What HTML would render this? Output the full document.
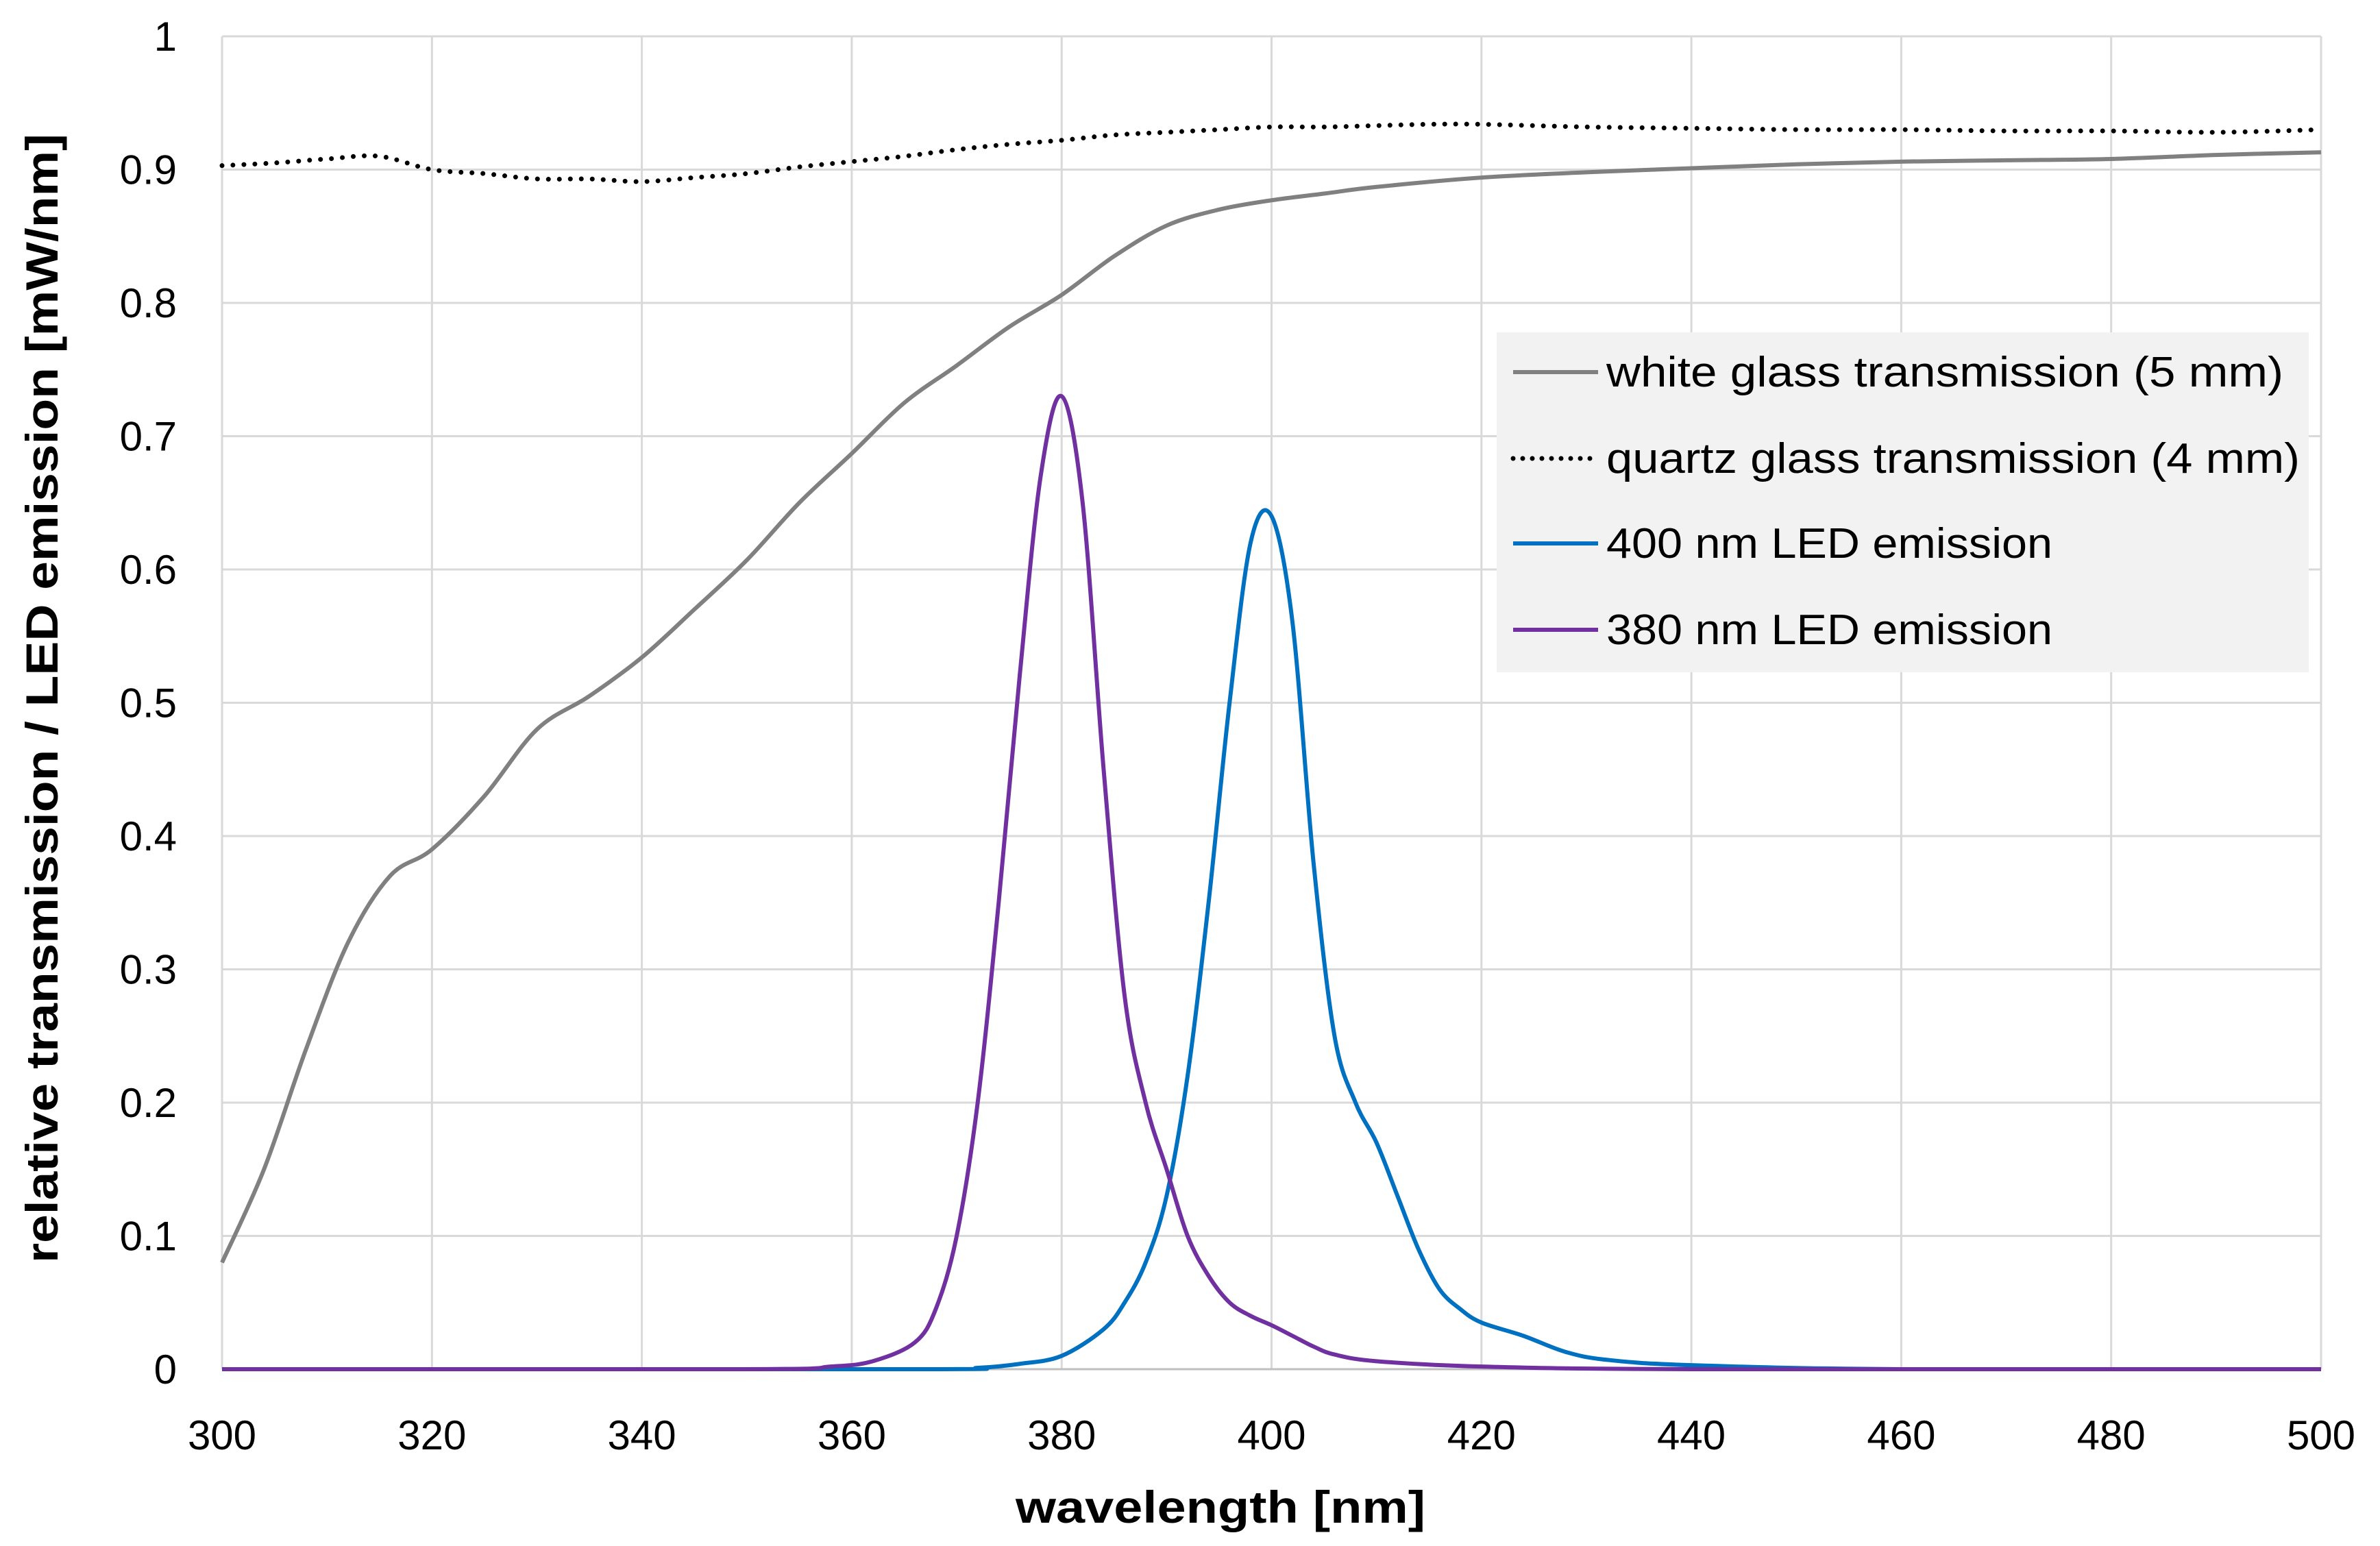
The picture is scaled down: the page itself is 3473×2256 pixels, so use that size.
<!DOCTYPE html>
<html><head><meta charset="utf-8">
<style>
html,body{margin:0;padding:0;background:#fff;}
svg{display:block;font-family:"Liberation Sans",sans-serif;}
</style></head>
<body>
<svg id="chart" width="3473" height="2256" viewBox="0 0 3473 2256" xmlns="http://www.w3.org/2000/svg">
<rect x="0" y="0" width="3473" height="2256" fill="#fff"/>
<g id="grid"></g>
<g id="series"></g>
<g id="ticks"></g>
<text x="1781" y="2222" text-anchor="middle" font-size="66" font-weight="bold" fill="#000" textLength="598" lengthAdjust="spacingAndGlyphs">wavelength [nm]</text>
<text transform="translate(84,1019) rotate(-90)" text-anchor="middle" font-size="66" font-weight="bold" fill="#000" textLength="1648" lengthAdjust="spacingAndGlyphs">relative transmission / LED emission [mW/nm]</text>
<g>
<rect x="2184" y="485" width="1185" height="496" fill="#f2f2f2"/>
<line x1="2208" y1="543" x2="2332" y2="543" stroke="#808080" stroke-width="6"/>
<text x="2344" y="564" font-size="62" fill="#000" textLength="988" lengthAdjust="spacingAndGlyphs">white glass transmission (5 mm)</text>
<line x1="2208" y1="669" x2="2332" y2="669" stroke="#000" stroke-width="7" stroke-dasharray="0 14" stroke-linecap="round"/>
<text x="2344" y="690" font-size="62" fill="#000" textLength="1012" lengthAdjust="spacingAndGlyphs">quartz glass transmission (4 mm)</text>
<line x1="2208" y1="793" x2="2332" y2="793" stroke="#0070C0" stroke-width="6"/>
<text x="2344" y="814" font-size="62" fill="#000" textLength="651" lengthAdjust="spacingAndGlyphs">400 nm LED emission</text>
<line x1="2208" y1="919" x2="2332" y2="919" stroke="#7030A0" stroke-width="6"/>
<text x="2344" y="940" font-size="62" fill="#000" textLength="651" lengthAdjust="spacingAndGlyphs">380 nm LED emission</text>
</g>
</svg>
<script>
const xTicks=[300,320,340,360,380,400,420,440,460,480,500];
const yTicks=[0,0.1,0.2,0.3,0.4,0.5,0.6,0.7,0.8,0.9,1];
const yTickLabels=["0","0.1","0.2","0.3","0.4","0.5","0.6","0.7","0.8","0.9","1"];
const whiteX=[300,304,308,312,316,320,325,330,335,340,345,350,355,360,365,370,375,380,385,390,395,400,405,410,420,430,440,450,460,470,480,490,500];
const whiteY=[0.08,0.15,0.24,0.32,0.37,0.39,0.43,0.48,0.505,0.534,0.57,0.607,0.65,0.687,0.725,0.753,0.782,0.806,0.835,0.858,0.87,0.877,0.882,0.887,0.894,0.898,0.901,0.904,0.906,0.907,0.908,0.911,0.913];
const quartzX=[300,305,310,315,320,325,330,335,340,345,350,355,360,365,370,375,380,385,390,395,400,405,410,415,420,430,440,450,460,470,480,490,500];
const quartzY=[0.903,0.905,0.908,0.91,0.9,0.897,0.893,0.893,0.891,0.894,0.897,0.902,0.906,0.91,0.915,0.919,0.922,0.926,0.928,0.93,0.932,0.932,0.933,0.934,0.934,0.932,0.931,0.93,0.93,0.929,0.929,0.928,0.93];
const led380X=[300,350,358,362,366,368,370,372,374,376,378,380,382,384,386,388,390,392,394,396,398,400,402,404,406,410,420,440,500];
const led380Y=[0,0,0.002,0.006,0.02,0.045,0.1,0.2,0.35,0.52,0.67,0.73,0.65,0.45,0.28,0.2,0.15,0.1,0.07,0.05,0.04,0.033,0.025,0.017,0.011,0.006,0.002,0,0];
const led400X=[300,366,372,376,380,384,386,388,390,392,394,396,398,400,402,404,406,408,410,412,414,416,418,420,424,428,432,440,460,500];
const led400Y=[0,0,0.001,0.004,0.01,0.03,0.05,0.08,0.13,0.22,0.35,0.5,0.62,0.64,0.56,0.38,0.25,0.2,0.17,0.13,0.09,0.06,0.045,0.035,0.025,0.013,0.007,0.003,0,0];

const X0=324,X1=3387,Y0=1998,Y1=53;
function sx(v){return X0+(v-300)/(500-300)*(X1-X0);}
function sy(v){return Y0-(v-0)/(1-0)*(Y0-Y1);}
const NS="http://www.w3.org/2000/svg";
const grid=document.getElementById('grid'),ser=document.getElementById('series'),tk=document.getElementById('ticks');
xTicks.forEach(t=>{
  const l=document.createElementNS(NS,'line');
  l.setAttribute('x1',sx(t));l.setAttribute('x2',sx(t));l.setAttribute('y1',Y1);l.setAttribute('y2',Y0);
  l.setAttribute('stroke','#d9d9d9');l.setAttribute('stroke-width','3');
  
  
  grid.appendChild(l);
  const tx=document.createElementNS(NS,'text');
  tx.setAttribute('x',sx(t));tx.setAttribute('y',2115);tx.setAttribute('text-anchor','middle');tx.setAttribute('font-size','60');
  tx.textContent=t;
  
  
  tk.appendChild(tx);
});
yTicks.forEach((t,i)=>{
  const l=document.createElementNS(NS,'line');
  l.setAttribute('x1',X0);l.setAttribute('x2',X1);l.setAttribute('y1',sy(t));l.setAttribute('y2',sy(t));
  l.setAttribute('stroke',t===0?'#bfbfbf':'#d9d9d9');l.setAttribute('stroke-width','3');
  
  
  grid.appendChild(l);
  const tx=document.createElementNS(NS,'text');
  tx.setAttribute('x',258);tx.setAttribute('y',sy(t)+21);tx.setAttribute('text-anchor','end');tx.setAttribute('font-size','60');
  tx.textContent=yTickLabels[i];
  
  
  tk.appendChild(tx);
});
function pathFor(xs,ys){
  const p=xs.map((x,i)=>[sx(x),sy(ys[i])]);
  let d='M'+p[0][0]+','+p[0][1];
  for(let i=0;i<p.length-1;i++){
    const a=p[Math.max(0,i-1)],b=p[i],c=p[i+1],e=p[Math.min(p.length-1,i+2)];
    let c1=[b[0]+(c[0]-a[0])/6,b[1]+(c[1]-a[1])/6],c2=[c[0]-(e[0]-b[0])/6,c[1]-(e[1]-b[1])/6];
    c1[1]=Math.min(c1[1],Y0);c2[1]=Math.min(c2[1],Y0);
    d+=' C'+c1[0]+','+c1[1]+' '+c2[0]+','+c2[1]+' '+c[0]+','+c[1];
  }
  return d;
}
function addSeries(xs,ys,color,w,dash,name){
  const p=document.createElementNS(NS,'path');
  p.setAttribute('d',pathFor(xs,ys));p.setAttribute('fill','none');p.setAttribute('stroke',color);
  p.setAttribute('stroke-width',w);p.setAttribute('stroke-linejoin','round');
  if(dash){p.setAttribute('stroke-dasharray',dash);p.setAttribute('stroke-linecap','round');}
  
  
  ser.appendChild(p);
}
addSeries(whiteX,whiteY,'#808080',6,null,'white-glass-line');
addSeries(quartzX,quartzY,'#000',7,'0 16','quartz-glass-line');
addSeries(led400X,led400Y,'#0070C0',6,null,'led-400nm-line');
addSeries(led380X,led380Y,'#7030A0',6,null,'led-380nm-line');
</script>
</body></html>
